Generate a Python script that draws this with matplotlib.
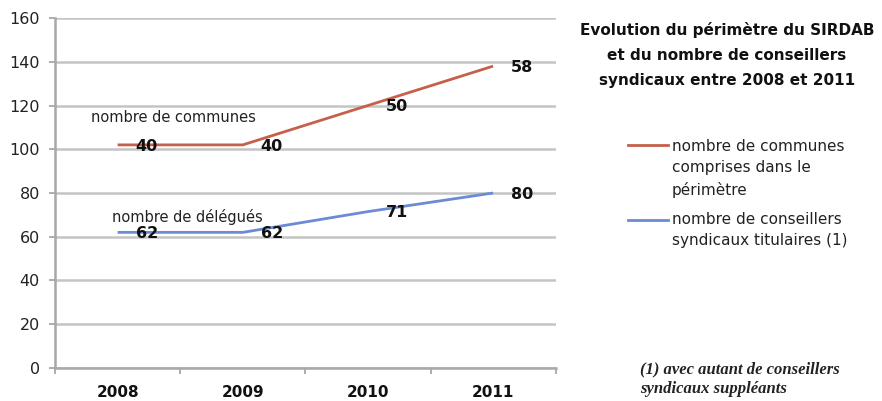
import matplotlib.pyplot as plt
from matplotlib.lines import Line2D

years = ['2008', '2009', '2010', '2011']
# values as plotted on the chart's axis
communes_plot = [102, 102, 120, 138]
delegues_plot = [62, 62, 71.5, 80]
# values written next to each point
communes_labels = [40, 40, 50, 58]
delegues_labels = [62, 62, 71, 80]

red = '#C5604B'
blue = '#6B8BD4'
grid_col = '#C4C4C4'

fig = plt.figure(figsize=(8.82, 4.01), dpi=100)
ax = fig.add_axes([0.0624, 0.0823, 0.5676, 0.8728])

x = list(range(len(years)))
ax.plot(x, communes_plot, color=red, lw=2.0, solid_capstyle='butt', zorder=3)
ax.plot(x, delegues_plot, color=blue, lw=2.0, solid_capstyle='butt', zorder=3)

for xi, v, lab in zip(x, communes_plot, communes_labels):
    ax.annotate(str(lab), (xi, v), xytext=(21, -1), textcoords='offset points',
                ha='center', va='center', fontsize=11.5, fontweight='bold', color='#111111', zorder=4)
for xi, v, lab in zip(x, delegues_plot, delegues_labels):
    ax.annotate(str(lab), (xi, v), xytext=(21, -1), textcoords='offset points',
                ha='center', va='center', fontsize=11.5, fontweight='bold', color='#111111', zorder=4)

ax.text(0.45, 114.5, 'nombre de communes', ha='center', va='center', fontsize=10.5, color='#222222')
ax.text(0.56, 69, 'nombre de délégués', ha='center', va='center', fontsize=10.5, color='#222222')

ax.set_xlim(-0.5, 3.5)
ax.set_ylim(0, 160)
ax.set_yticks(range(0, 161, 20))
ax.yaxis.grid(True, color=grid_col, lw=1.8)
ax.set_axisbelow(True)

ax.set_xticks([-0.5, 0.5, 1.5, 2.5, 3.5])
ax.set_xticklabels([])
ax.set_xticks(x, minor=True)
ax.set_xticklabels(years, minor=True, fontsize=11, fontweight='bold', color='#111111')
ax.tick_params(axis='x', which='major', length=4, color='#A0A0A0', width=1.2)
ax.tick_params(axis='x', which='minor', length=0, pad=12)
ax.tick_params(axis='y', length=4, color='#A0A0A0', width=1.2, labelsize=11.5, labelcolor='#222222', pad=7)

for s in ['top', 'right']:
    ax.spines[s].set_visible(False)
for s in ['left', 'bottom']:
    ax.spines[s].set_color('#A8A8A8')
    ax.spines[s].set_linewidth(1.8)

fig.text(0.824, 0.863, 'Evolution du périmètre du SIRDAB\net du nombre de conseillers\nsyndicaux entre 2008 et 2011',
         ha='center', va='center', multialignment='center', fontsize=11, fontweight='bold',
         linespacing=1.8, color='#111111')

# legend
W, H = 882, 401
fig.add_artist(Line2D([628 / W, 668 / W], [1 - 145 / H] * 2, transform=fig.transFigure, color=red, lw=2.0))
fig.add_artist(Line2D([628 / W, 668 / W], [1 - 220 / H] * 2, transform=fig.transFigure, color=blue, lw=2.0))
fig.text(672 / W, 1 - 139 / H, 'nombre de communes\ncomprises dans le\npérimètre',
         ha='left', va='top', fontsize=11, color='#222222', linespacing=1.52)
fig.text(672 / W, 1 - 212 / H, 'nombre de conseillers\nsyndicaux titulaires (1)',
         ha='left', va='top', fontsize=11, color='#222222', linespacing=1.52)

fig.text(640 / W, 1 - 379 / H, '(1) avec autant de conseillers\nsyndicaux suppléants',
         ha='left', va='center', fontsize=12, fontstyle='italic', fontweight='bold',
         family='Liberation Serif', color='#222222', linespacing=1.3)

fig.savefig('out.png', dpi=100)
